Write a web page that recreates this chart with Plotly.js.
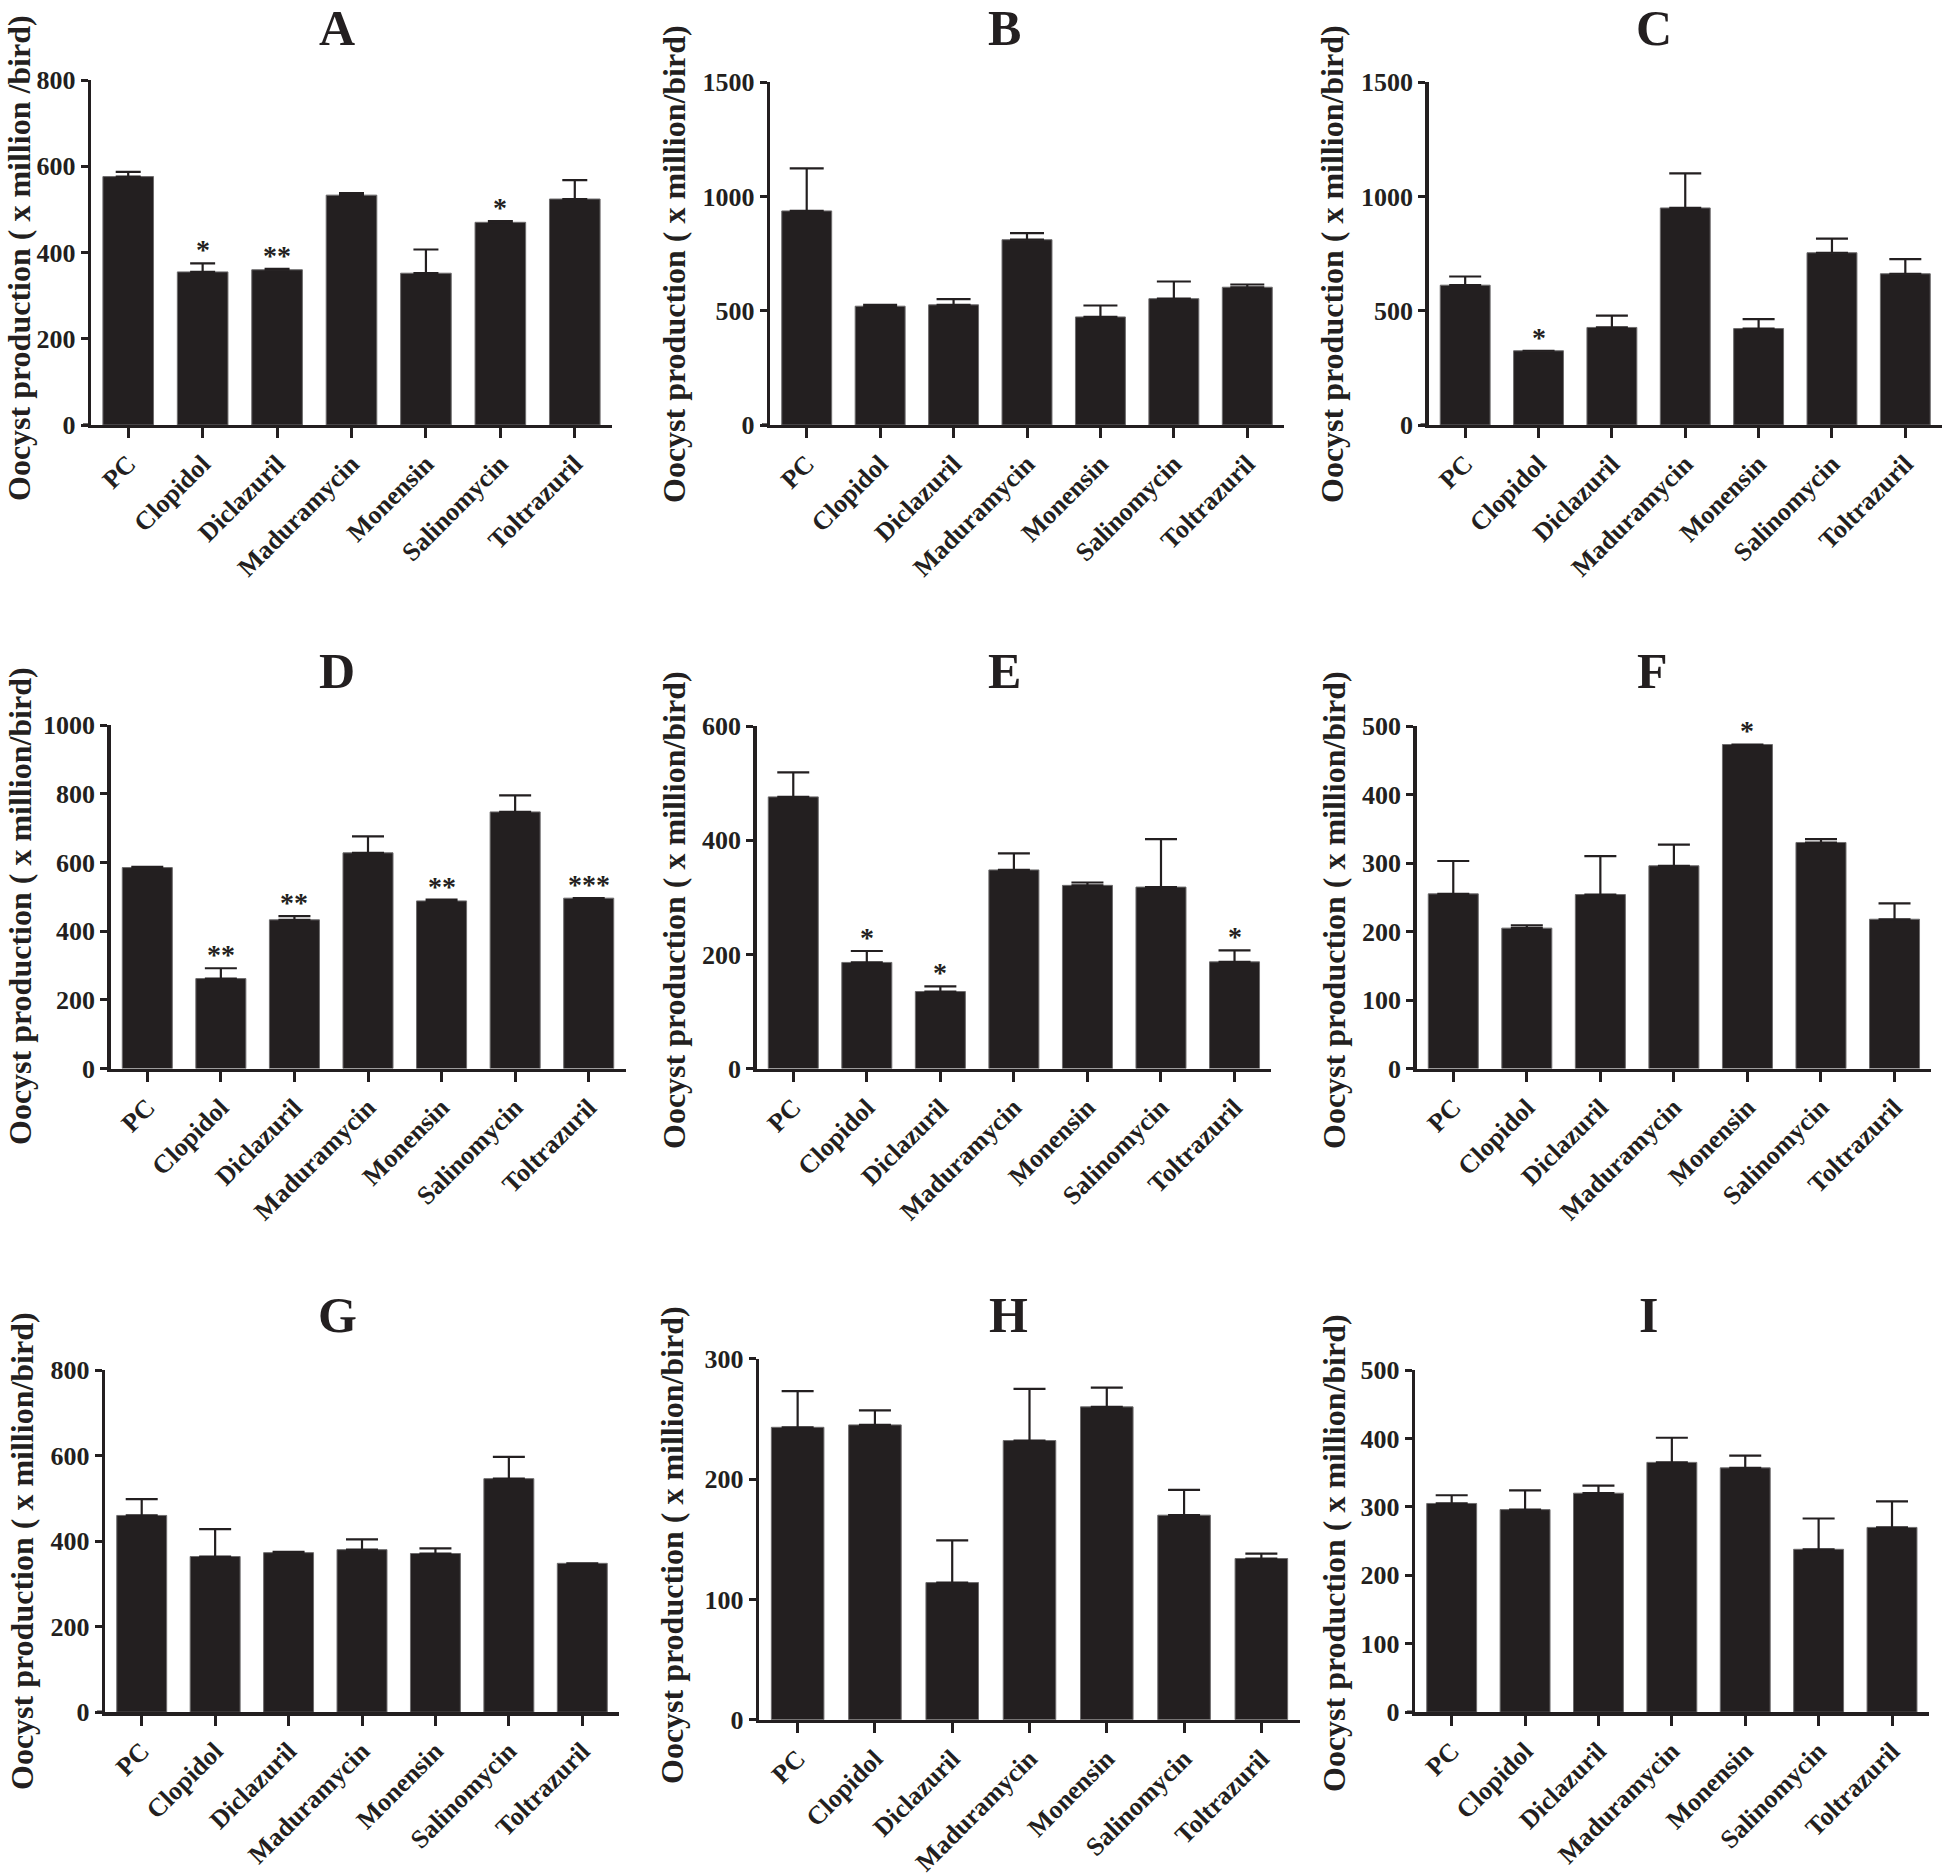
<!DOCTYPE html>
<html>
<head>
<meta charset="utf-8">
<script src="https://cdn.plot.ly/plotly-3.0.1.min.js"></script>
<style>html,body{margin:0;padding:0;background:#fff;}#chart{width:1946px;height:1876px;}</style>
</head>
<body>
<div id="chart"></div>
<script>
// ---------------- DATA ----------------
const categories = ['PC','Clopidol','Diclazuril','Maduramycin','Monensin','Salinomycin','Toltrazuril'];
const panelLetters = ['A','B','C','D','E','F','G','H','I'];
const yTitleA = 'Oocyst production ( x million /bird)';
const yTitleOther = 'Oocyst production ( x million/bird)';

const meanA = [576, 355, 360, 533, 352, 470, 524];
const errA  = [11, 20, 2, 5, 55, 3, 44];
const sigA  = ['', '*', '**', '', '', '*', ''];

const meanB = [937, 520, 526, 811, 473, 553, 603];
const errB  = [186, 6, 25, 29, 50, 75, 12];
const sigB  = ['', '', '', '', '', '', ''];

const meanC = [612, 325, 427, 950, 422, 754, 662];
const errC  = [38, 0, 52, 151, 41, 62, 64];
const sigC  = ['', '*', '', '', '', '', ''];

const meanD = [585, 262, 433, 628, 488, 747, 496];
const errD  = [2, 30, 11, 48, 4, 48, 0];
const sigD  = ['', '**', '**', '', '**', '', '***'];

const meanE = [476, 186, 135, 348, 321, 318, 187];
const errE  = [43, 20, 9, 29, 5, 84, 20];
const sigE  = ['', '*', '*', '', '', '', '*'];

const meanF = [255, 205, 254, 296, 473, 330, 218];
const errF  = [48, 4, 56, 31, 0, 5, 23];
const sigF  = ['', '', '', '', '*', '', ''];

const meanG = [460, 364, 373, 380, 371, 546, 348];
const errG  = [38, 64, 2, 24, 12, 51, 0];
const sigG  = ['', '', '', '', '', '', ''];

const meanH = [243, 245, 114, 232, 260, 170, 134];
const errH  = [30, 12, 35, 43, 16, 21, 4];
const sigH  = ['', '', '', '', '', '', ''];

const meanI = [305, 296, 320, 365, 357, 238, 270];
const errI  = [12, 28, 11, 36, 18, 45, 38];
const sigI  = ['', '', '', '', '', '', ''];

const yMax  = [800, 1500, 1500, 1000, 600, 500, 800, 300, 500];
const yStep = [200, 500, 500, 200, 200, 100, 200, 100, 100];

// ---------------- LAYOUT (pixel geometry) ----------------
const W = 1946, H = 1876;
const means = [meanA, meanB, meanC, meanD, meanE, meanF, meanG, meanH, meanI];
const errs  = [errA, errB, errC, errD, errE, errF, errG, errH, errI];
const sigs  = [sigA, sigB, sigC, sigD, sigE, sigF, sigG, sigH, sigI];

// plot areas [left, right, top, bottom] in px
const boxes = [
  [91, 612, 80, 425],
  [770, 1284, 82.3, 425],
  [1428.5, 1942, 82.3, 425],
  [110.5, 625.5, 725, 1068.6],
  [756.5, 1271.3, 726.1, 1068.6],
  [1416.5, 1931.3, 726, 1068.6],
  [105, 619, 1370, 1712.2],
  [759, 1300, 1358.7, 1719.8],
  [1415, 1928.7, 1370, 1712.2]
];
const capHalf = [12.5, 17, 16, 16, 16, 16, 16, 16, 16];
const titlePos = [[337,28],[1004,28],[1654,28],[337,671],[1004,671],[1652,671],[337,1315],[1008,1315],[1648,1315]];
const yTitlePos = [[19,258],[674,264],[1332,264],[20,906],[674,910],[1334,910],[22,1551],[672,1545],[1334,1553]];

const ink = '#231f20';
const fam = '"Liberation Serif", "Times New Roman", Times, serif';
const px2x = p => p / W;
const px2y = p => 1 - p / H;

const traces = [];
const layout = {
  width: W, height: H,
  margin: {l: 0, r: 0, t: 0, b: 0},
  paper_bgcolor: '#ffffff', plot_bgcolor: '#ffffff',
  showlegend: false,
  bargap: 0.32,
  font: {family: fam, color: ink},
  annotations: [],
  shapes: []
};

for (let i = 0; i < 9; i++) {
  const n = i === 0 ? '' : String(i + 1);
  const [l, r, t, b] = boxes[i];
  traces.push({
    type: 'bar',
    x: categories,
    y: means[i],
    xaxis: 'x' + n, yaxis: 'y' + n,
    marker: {color: ink, line: {color: '#6d6b6c', width: 1}},
    error_y: {type: 'data', symmetric: false, array: errs[i], arrayminus: errs[i].map(() => 0),
              color: ink, thickness: 2.2, width: capHalf[i]},
    hoverinfo: 'x+y'
  });
  const tickvals = [];
  for (let v = 0; v <= yMax[i] + 1e-9; v += yStep[i]) tickvals.push(v);
  layout['xaxis' + n] = {
    domain: [px2x(l), px2x(r)], anchor: 'y' + n,
    type: 'category', range: [-0.5, 6.5],
    showline: true, linewidth: 3.3, linecolor: ink,
    ticks: 'outside', ticklen: 10, tickwidth: 3, tickcolor: ink,
    tickangle: -45, showgrid: false, zeroline: false,
    tickfont: {family: fam, size: 26, color: ink, weight: 700},
    automargin: false
  };
  layout['yaxis' + n] = {
    domain: [px2y(b), px2y(t)], anchor: 'x' + n,
    range: [0, yMax[i]], tickvals: tickvals,
    showline: true, linewidth: 3.3, linecolor: ink,
    ticks: 'outside', ticklen: 7, tickwidth: 3, tickcolor: ink,
    showgrid: false, zeroline: false,
    tickfont: {family: fam, size: 26, color: ink, weight: 700},
    automargin: false
  };
  // small extension of the x axis line to the left of the y axis
  layout.shapes.push({
    type: 'line', xref: 'paper', yref: 'y' + n,
    x0: px2x(l - 8), x1: px2x(l), y0: 0, y1: 0,
    line: {color: ink, width: 3.3}
  });
  // panel letter
  layout.annotations.push({
    text: panelLetters[i], xref: 'paper', yref: 'paper',
    x: px2x(titlePos[i][0]), y: px2y(titlePos[i][1]),
    xanchor: 'center', yanchor: 'middle', showarrow: false,
    font: {family: fam, size: 50, color: ink, weight: 700}
  });
  // y axis title
  layout.annotations.push({
    text: i === 0 ? yTitleA : yTitleOther, xref: 'paper', yref: 'paper',
    x: px2x(yTitlePos[i][0]), y: px2y(yTitlePos[i][1]),
    xanchor: 'center', yanchor: 'middle', textangle: -90, showarrow: false,
    font: {family: fam, size: 32, color: ink, weight: 700}
  });
  // significance stars
  for (let k = 0; k < categories.length; k++) {
    if (!sigs[i][k]) continue;
    layout.annotations.push({
      text: sigs[i][k], xref: 'x' + n, yref: 'y' + n,
      x: categories[k], y: means[i][k] + errs[i][k],
      xanchor: 'center', yanchor: 'bottom', yshift: -4, showarrow: false,
      font: {family: fam, size: 28, color: ink, weight: 700}
    });
  }
}

Plotly.newPlot('chart', traces, layout, {displayModeBar: false, staticPlot: true});
</script>
</body>
</html>
